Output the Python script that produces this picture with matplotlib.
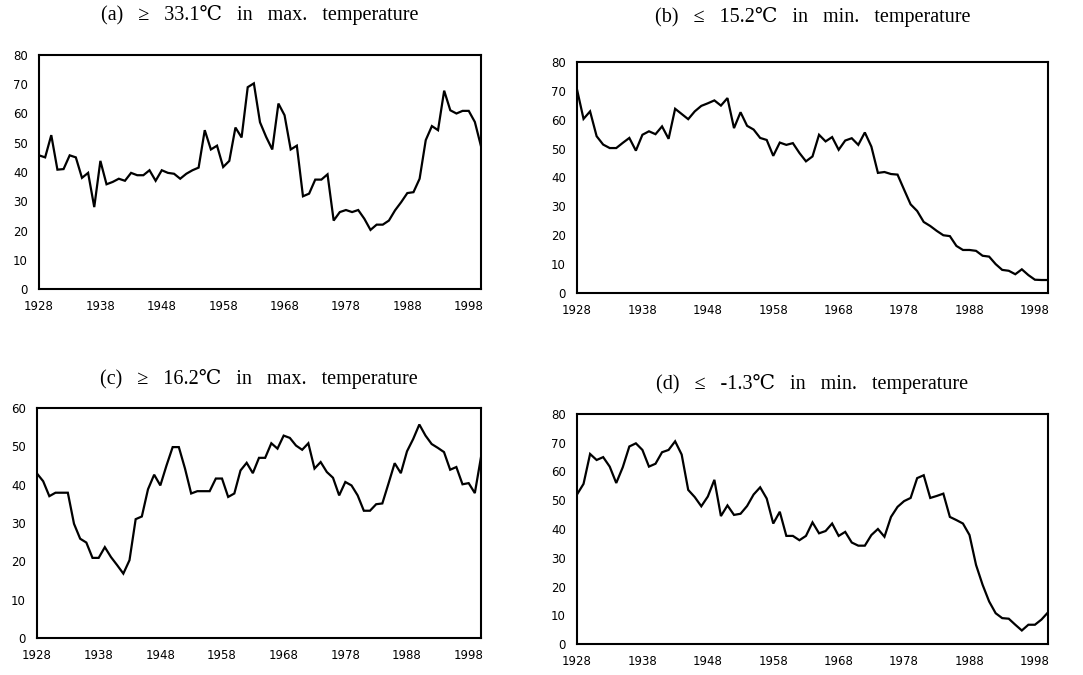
import numpy as np
import matplotlib
matplotlib.use("Agg")
import matplotlib.pyplot as plt

years = np.arange(1928, 2001)

# (a) days >= 33.1 C in max. temperature
days_a = [45.7, 45.0, 52.6, 40.8, 41.0, 45.7, 45.0, 38.0, 39.7, 28.0,
          43.8, 35.8, 36.6, 37.7, 37.0, 39.7, 38.9, 38.9, 40.6, 37.0,
          40.6, 39.7, 39.4, 37.7, 39.4, 40.6, 41.5, 54.3, 47.7, 49.0,
          41.7, 43.8, 55.2, 51.8, 69.0, 70.3, 57.0, 52.0, 47.7, 63.4,
          59.4, 47.7, 49.0, 31.7, 32.6, 37.4, 37.4, 39.2, 23.4, 26.3,
          27.0, 26.3, 27.0, 24.0, 20.2, 22.0, 22.0, 23.4, 26.9, 29.7,
          32.8, 33.1, 37.7, 50.9, 55.7, 54.3, 67.8, 61.1, 60.0, 60.9,
          60.9, 57.1, 48.8]

# (b) days <= 15.2 C in min. temperature
days_b = [70.5, 60.3, 62.9, 54.3, 51.4, 50.2, 50.2, 52.0, 53.7, 49.3,
          54.8, 56.0, 55.0, 57.7, 53.4, 63.8, 62.0, 60.2, 62.9, 64.8,
          65.7, 66.7, 64.9, 67.5, 57.1, 62.6, 57.9, 56.6, 53.7, 53.0,
          47.5, 52.1, 51.3, 51.9, 48.5, 45.6, 47.3, 54.8, 52.5, 54.0,
          49.6, 52.8, 53.6, 51.3, 55.6, 50.7, 41.6, 41.9, 41.2, 41.0,
          35.8, 30.7, 28.4, 24.6, 23.2, 21.5, 20.0, 19.7, 16.3, 14.9,
          14.9, 14.6, 12.9, 12.6, 10.0, 8.0, 7.7, 6.5, 8.2, 6.2,
          4.6, 4.5, 4.5]

# (c) days >= 16.2 C in max. temperature
days_c = [42.9, 40.9, 37.0, 37.9, 37.9, 37.9, 29.8, 25.9, 24.9, 20.9,
          20.9, 23.7, 21.1, 19.0, 16.8, 20.3, 31.0, 31.7, 38.8, 42.6,
          39.8, 45.0, 49.8, 49.8, 44.2, 37.7, 38.3, 38.3, 38.3, 41.6,
          41.6, 36.8, 37.7, 43.7, 45.7, 43.0, 47.0, 47.0, 50.8, 49.4,
          52.8, 52.2, 50.2, 49.1, 50.8, 44.2, 45.9, 43.3, 41.8, 37.2,
          40.7, 39.8, 37.2, 33.2, 33.2, 34.9, 35.1, 40.3, 45.6, 43.0,
          48.7, 51.9, 55.7, 52.8, 50.6, 49.6, 48.5, 43.9, 44.6, 40.1,
          40.4, 37.8, 47.2]

# (d) days <= -1.3 C in min. temperature
days_d = [52.0, 55.7, 66.1, 64.0, 65.0, 61.7, 56.0, 61.5, 68.7, 69.8,
          67.5, 61.7, 62.7, 66.7, 67.5, 70.5, 65.9, 53.6, 51.1, 47.9,
          51.3, 57.1, 44.5, 48.2, 44.9, 45.3, 48.0, 52.0, 54.5, 50.6,
          41.9, 46.0, 37.6, 37.6, 36.1, 37.6, 42.3, 38.5, 39.3, 41.9,
          37.6, 39.0, 35.3, 34.2, 34.2, 37.9, 40.0, 37.3, 44.2, 47.7,
          49.7, 50.8, 57.7, 58.7, 50.8, 51.5, 52.3, 44.2, 43.1, 41.9,
          37.9, 27.5, 20.6, 14.8, 10.7, 9.0, 8.8, 6.7, 4.7, 6.7,
          6.7, 8.5, 11.0]

titles = [
    "(a)   \u2265   33.1\u2103   in   max.   temperature",
    "(b)   \u2264   15.2\u2103   in   min.   temperature",
    "(c)   \u2265   16.2\u2103   in   max.   temperature",
    "(d)   \u2264   -1.3\u2103   in   min.   temperature",
]
series = [days_a, days_b, days_c, days_d]
y_tops = [80, 80, 60, 80]
x_ticks = list(range(1928, 2000, 10))

W, H = 1083, 675
fig = plt.figure(figsize=(W / 100, H / 100), dpi=100)

# panel boxes in pixels: left, top, right, bottom, title centre height
boxes = [
    (39, 55, 481, 289, 15),
    (577, 62, 1048, 293, 17),
    (37, 408, 481, 638, 379),
    (577, 414, 1048, 644, 384),
]

for box, vals, title, ytop in zip(boxes, series, titles, y_tops):
    l, t, r, b, ty = box
    ax = fig.add_axes([l / W, 1 - b / H, (r - l) / W, (b - t) / H])
    ax.plot(years, vals, color="black", lw=1.6, solid_joinstyle="miter")
    ax.set_xlim(1928, 2000)
    ax.set_ylim(0, ytop)
    ax.set_yticks(range(0, ytop + 1, 10))
    ax.set_xticks(x_ticks)
    ax.set_xticklabels([str(v) for v in x_ticks])
    ax.tick_params(length=0, labelsize=8.5, pad=8)
    for lab in ax.get_xticklabels() + ax.get_yticklabels():
        lab.set_family("DejaVu Sans")
    for sp in ax.spines.values():
        sp.set_linewidth(1.5)
        sp.set_color("black")
    fig.text((l + r) / 2 / W, 1 - ty / H, title,
             family=["Liberation Serif", "DejaVu Serif"], fontsize=14.5,
             ha="center", va="center")

fig.savefig("out.png", dpi=100)
